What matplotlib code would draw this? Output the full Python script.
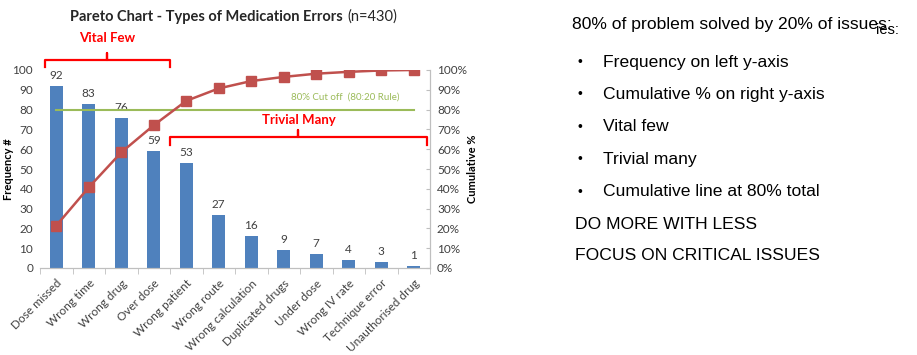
import numpy as np
import matplotlib.pyplot as plt

categories = ["Dose missed", "Wrong time", "Wrong drug", "Over dose", "Wrong patient",
              "Wrong route", "Wrong calculation", "Duplicated drugs", "Under dose",
              "Wrong IV rate", "Technique error", "Unauthorised drug"]
counts = [92, 83, 76, 59, 53, 27, 16, 9, 7, 4, 3, 1]
freq_ticks = [0, 10, 20, 30, 40, 50, 60, 70, 80, 90, 100]
pct_ticks = [0, 10, 20, 30, 40, 50, 60, 70, 80, 90, 100]
cutoff = 80
notes_head = "80% of problem solved by 20% of issues:"
bullets = ["Frequency on left y-axis", "Cumulative % on right y-axis", "Vital few",
           "Trivial many", "Cumulative line at 80% total"]
closing = ["DO MORE WITH LESS", "FOCUS ON CRITICAL ISSUES"]

BLUE = "#4F81BD"
RED_LINE = "#C0504D"
GREEN = "#9BBB59"
RED = "#FF0000"
GREY = "#404040"
W, H = 917, 355

plt.rcParams['font.family'] = ['Lato', 'DejaVu Sans']

fig = plt.figure(figsize=(W / 100, H / 100), dpi=100)
ax = fig.add_axes([40 / W, 1 - 268 / H, 390 / W, 198 / H])
ax2 = ax.twinx()

x = np.arange(len(categories))
total = sum(counts)
cum = np.cumsum(counts) / total * 100

ax.bar(x, counts, width=0.4, color=BLUE, zorder=2)
for xi, c in zip(x, counts):
    ax.text(xi, c + 2.5, str(c), ha='center', va='bottom', fontsize=8.5, color=GREY)

ax.set_xlim(-0.5, len(categories) - 0.5)
ax.set_ylim(0, 100)
ax.set_yticks(freq_ticks)
ax.tick_params(axis='y', length=0, labelsize=8.5, labelcolor=GREY, pad=5)
ax.set_xticks(x)
ax.set_xticklabels(categories, rotation=45, ha='right', rotation_mode='anchor',
                   fontsize=8.5, color=GREY)
ax.tick_params(axis='x', length=0, pad=7)
ax.set_xticks(np.arange(-0.5, len(categories), 1), minor=True)
ax.tick_params(axis='x', which='minor', length=4, color='#BFBFBF', direction='out')
ax.set_ylabel("Frequency #", fontsize=8, fontweight='bold')
ax.yaxis.set_label_coords(-0.066, 0.5)

for a in (ax, ax2):
    for s in ('top', 'left'):
        a.spines[s].set_visible(False)
    a.spines['bottom'].set_color('#BFBFBF')
    a.spines['right'].set_color('#BFBFBF')

ax2.plot(x, cum, color=RED_LINE, lw=1.8, marker='s', markersize=6.5,
         markerfacecolor=RED_LINE, markeredgecolor=RED_LINE, zorder=3)
ax2.plot([x[0], x[-1]], [cutoff, cutoff], color=GREEN, lw=1.5, zorder=2)
ax2.text(8.9, 86.5, "80% Cut off  (80:20 Rule)", color=GREEN, fontsize=7,
         ha='center', va='center')
ax2.set_ylim(0, 100)
ax2.set_yticks(pct_ticks)
ax2.set_yticklabels([f"{p}%" for p in pct_ticks])
ax2.tick_params(axis='y', length=3, direction='in', color='#BFBFBF',
                labelsize=8.5, labelcolor=GREY, pad=5)
ax2.set_ylabel("Cumulative %", fontsize=8, fontweight='bold')
ax2.yaxis.set_label_coords(1.095, 0.5)

# vital few bracket
bx = [-0.34, -0.34, 1.57, 1.57, 1.57, 3.49, 3.49]
by = [101.5, 105, 105, 108.5, 105, 105, 101.5]
ax.plot(bx, by, color=RED, lw=1.6, clip_on=False, solid_joinstyle='round')
ax.text(1.57, 116, "Vital Few", color=RED, fontsize=9.5, fontweight='bold',
        ha='center', va='center', clip_on=False)

# trivial many bracket
tx = [3.49, 3.49, 7.45, 7.45, 7.45, 11.42, 11.42]
ty = [62, 66, 66, 69.5, 66, 66, 62]
ax.plot(tx, ty, color=RED, lw=1.6, clip_on=False, zorder=4)
ax.text(7.45, 74.5, "Trivial Many", color=RED, fontsize=9.5, fontweight='bold',
        ha='center', va='center')

fig.text(343 / W, 1 - 17 / H, "Pareto Chart - Types of Medication Errors",
         fontsize=10.5, fontweight='bold', color='#262626', ha='right', va='center')
fig.text(347 / W, 1 - 17 / H, f"(n={total})", fontsize=10.5, color='#262626',
         ha='left', va='center')

# notes on the right
note_font = ['Liberation Sans', 'DejaVu Sans']
fig.text(572 / W, 1 - 25 / H, notes_head, fontsize=12.6, family=note_font,
         ha='left', va='center')
fig.text(876 / W, 1 - 30 / H, "ies:", fontsize=10.5, family=note_font,
         ha='left', va='center')
for i, b in enumerate(bullets):
    yy = 1 - (62 + 32.4 * i) / H
    fig.text(580 / W, yy, "\u2022", fontsize=10, family=note_font, ha='center', va='center')
    fig.text(603 / W, yy, b, fontsize=12.6, family=note_font, ha='left', va='center')
for i, c in enumerate(closing):
    yy = 1 - (224 + 32 * i) / H
    fig.text(575 / W, yy, c, fontsize=12.6, family=note_font, ha='left', va='center')

fig.savefig("out.png", dpi=100)
